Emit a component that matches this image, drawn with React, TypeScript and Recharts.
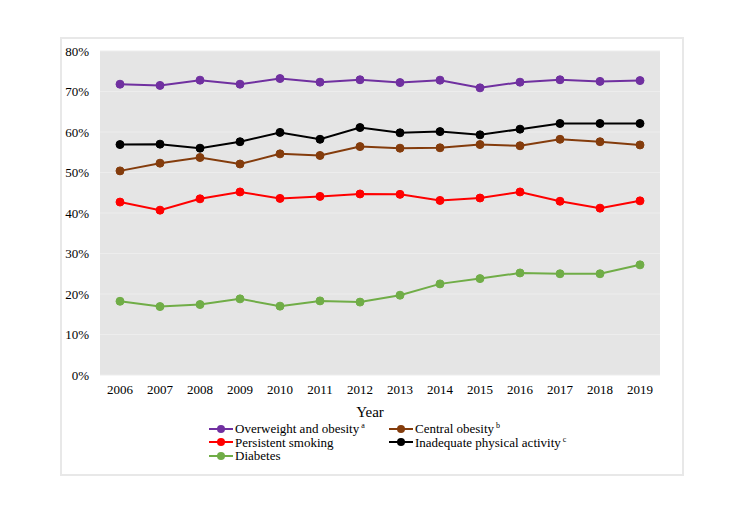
import { LineChart, Line, XAxis, YAxis, CartesianGrid } from 'recharts';

const years = ['2006', '2007', '2008', '2009', '2010', '2011', '2012', '2013', '2014', '2015', '2016', '2017', '2018', '2019'];
const overweight = [71.8, 71.5, 72.8, 71.8, 73.2, 72.3, 72.9, 72.2, 72.8, 70.9, 72.3, 72.9, 72.5, 72.7];
const centralObesity = [50.4, 52.3, 53.7, 52.1, 54.6, 54.2, 56.4, 56.0, 56.1, 56.9, 56.6, 58.2, 57.6, 56.8];
const smoking = [42.7, 40.7, 43.5, 45.2, 43.6, 44.1, 44.7, 44.6, 43.1, 43.7, 45.2, 42.9, 41.2, 43.0];
const inactivity = [56.9, 57.0, 56.0, 57.6, 59.9, 58.2, 61.1, 59.8, 60.1, 59.3, 60.7, 62.1, 62.1, 62.1];
const diabetes = [18.2, 16.9, 17.4, 18.8, 17.0, 18.3, 18.0, 19.7, 22.5, 23.8, 25.2, 25.0, 25.0, 27.2];
const yTicks = [0, 10, 20, 30, 40, 50, 60, 70, 80];

const series = [
  { key: 'overweight', name: 'Overweight and obesity', sup: 'a', color: '#7030a0' },
  { key: 'central', name: 'Central obesity', sup: 'b', color: '#843c0c' },
  { key: 'smoking', name: 'Persistent smoking', sup: '', color: '#ff0000' },
  { key: 'inactivity', name: 'Inadequate physical activity', sup: 'c', color: '#000000' },
  { key: 'diabetes', name: 'Diabetes', sup: '', color: '#70ad47' },
];

const data = years.map((year, i) => ({
  year,
  overweight: overweight[i],
  central: centralObesity[i],
  smoking: smoking[i],
  inactivity: inactivity[i],
  diabetes: diabetes[i],
}));

const font = '"Liberation Serif", "Times New Roman", serif';

// legend drawn as plain html below the plot, two columns like the original
function LegendBox() {
  return (
    <div
      style={{
        position: 'absolute',
        left: 209,
        top: 422,
        display: 'grid',
        gridTemplateColumns: '180px 220px',
        gridAutoRows: '13.5px',
        fontFamily: font,
        fontSize: 13,
        color: '#000',
        lineHeight: '13.5px',
      }}
    >
      {series.map((s) => (
        <div key={s.key} style={{ display: 'flex', alignItems: 'center', whiteSpace: 'nowrap', height: 13.5 }}>
          <svg width={24} height={10} style={{ marginRight: 2 }}>
            <line x1={0} y1={5} x2={24} y2={5} stroke={s.color} strokeWidth={2} />
            <circle cx={12} cy={5} r={4} fill={s.color} />
          </svg>
          <span style={{ fontFamily: font }}>
            {s.name}
            {s.sup && (
              <span style={{ fontSize: 8, marginLeft: 2, position: 'relative', top: -5, lineHeight: 0 }}>{s.sup}</span>
            )}
          </span>
        </div>
      ))}
    </div>
  );
}

export default function App() {
  return (
    <div style={{ position: 'absolute', left: 0, top: 0, width: 756, height: 506, background: '#fff' }}>
      <div
        style={{
          position: 'absolute',
          left: 60,
          top: 37,
          width: 620,
          height: 435,
          border: '2px solid #e8e8e8',
        }}
      />
      <div style={{ position: 'absolute', left: 0, top: 0 }}>
        <LineChart width={756} height={506} data={data} margin={{ top: 51, right: 96, bottom: 86, left: 60 }}>
          <CartesianGrid vertical={false} fill="#e5e5e5" stroke="#ededed" />
          <XAxis
            dataKey="year"
            axisLine={false}
            tickLine={false}
            height={45}
            interval={0}
            tickMargin={4}
            padding={{ left: 20, right: 20 }}
            tick={{ fontFamily: font, fontSize: 13, fill: '#000' }}
            label={{ value: 'Year', position: 'insideBottom', offset: 3, dx: -10, style: { fontFamily: font, fontSize: 15, fill: '#000' } }}
          />
          <YAxis
            domain={[0, 80]}
            ticks={yTicks}
            width={40}
            axisLine={false}
            tickLine={false}
            tickMargin={5}
            tickFormatter={(v) => `${v}%`}
            tick={{ fontFamily: font, fontSize: 13, fill: '#000' }}
          />
          {series.map((s) => (
            <Line
              key={s.key}
              dataKey={s.key}
              name={s.name}
              type="linear"
              stroke={s.color}
              strokeWidth={2}
              dot={{ r: 4, fill: s.color, stroke: s.color, strokeWidth: 1 }}
              isAnimationActive={false}
            />
          ))}
        </LineChart>
      </div>
      <LegendBox />
    </div>
  );
}
